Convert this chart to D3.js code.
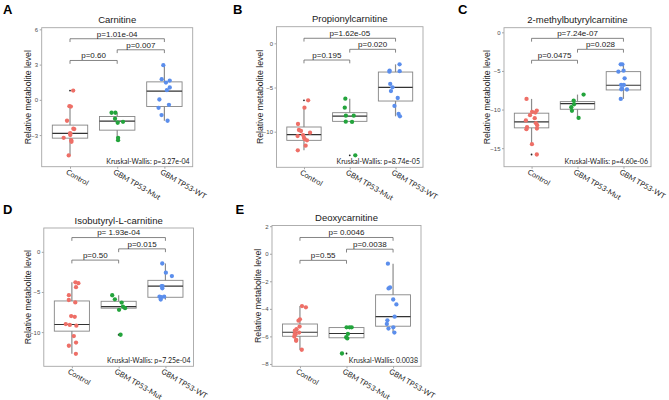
<!DOCTYPE html>
<html>
<head>
<meta charset="utf-8">
<script src="https://cdn.jsdelivr.net/npm/d3@7"></script>
<style>
  body { margin: 0; background: #fff; }
  svg { display: block; }
  .frame { fill: none; stroke: #a6a6a6; stroke-width: 0.9; }
  .ytick { font-family: "Liberation Sans", Arial, sans-serif; font-size: 6px; fill: #4d4d4d; }
  .ytitle { font-family: "Liberation Sans", Arial, sans-serif; font-size: 8.7px; fill: #1a1a1a; }
  .title { font-family: "Liberation Sans", Arial, sans-serif; font-size: 9.5px; fill: #1a1a1a; }
  .letter { font-family: "Liberation Sans", Arial, sans-serif; font-size: 13px; font-weight: bold; fill: #000; }
  .xlab { font-family: Lato, "Open Sans", sans-serif; font-size: 7.5px; fill: #262626; }
  .kw { font-family: Lato, "Open Sans", sans-serif; font-size: 7px; fill: #1a1a1a; }
  .pval { font-family: "Liberation Sans", Arial, sans-serif; font-size: 8px; fill: #1a1a1a; }
  .bracket { fill: none; stroke: #666; stroke-width: 0.8; }
  .whisker { stroke: #8c8c8c; stroke-width: 1.2; }
  .box { fill: #fff; stroke: #858585; stroke-width: 0.9; }
  .median { stroke: #333; stroke-width: 1.2; }
</style>
</head>
<body>
<svg id="chart" width="669" height="400"></svg>
<script>
// groups and colours
const groups = ["Control", "GBM TP53-Mut", "GBM TP53-WT"];
const groupColors = ["#ee6f67", "#23a43c", "#5b8eec"];

const panelLetters = ["A", "B", "C", "D", "E"];
const panelTitles = ["Carnitine", "Propionylcarnitine", "2-methylbutyrylcarnitine",
  "Isobutyryl-L-carnitine", "Deoxycarnitine"];
const kruskalLabels = ["Kruskal-Wallis: p=3.27e-04", "Kruskal-Wallis: p=8.74e-05",
  "Kruskal-Wallis: p=4.60e-06", "Kruskal-Wallis: p=7.25e-04", "Kruskal-Wallis: 0.0038"];
const yTicks = [[6, 3, 0, -3], [0, -5, -10], [0, -5, -10, -15], [0, -5, -10], [2, 0, -2, -4, -6, -8]];

// points per group: Control, Mut, WT
const carnitinePoints = [
  [0.79, -0.57, -0.54, -1.78, -2.49, -2.46, -2.86, -2.86, -3.0, -3.23, -3.43, -3.57, -4.73],
  [-1.1, -1.1, -1.61, -1.87, -1.95, -3.23, -3.43],
  [2.95, 1.76, 1.64, 1.47, 1.05, 0.82, 0.03, -0.42, -0.68, -1.3, -1.78]
];
const propionylPoints = [
  [-6.45, -7.28, -9.13, -9.81, -9.92, -10.11, -10.38, -10.5, -10.68, -10.87, -10.98, -11.58, -12.11],
  [-6.26, -7.28, -8.19, -8.19, -8.87, -8.9, -12.68],
  [-2.38, -3.09, -3.21, -3.15, -4.6, -4.98, -5.4, -6.19, -7.09, -8.0, -8.26]
];
const methylbutyrylPoints = [
  [-8.62, -10.13, -10.3, -10.39, -10.73, -11.12, -11.42, -11.77, -12.03, -12.28, -12.46, -12.54, -14.48, -15.82],
  [-8.06, -8.84, -9.31, -9.7, -10.17, -11.08],
  [-4.14, -4.14, -4.96, -5.09, -5.95, -6.81, -6.81, -7.3, -7.37, -7.4, -8.62]
];
const isobutyrylPoints = [
  [-3.8, -3.9, -4.4, -5.4, -6.0, -6.3, -8.0, -8.1, -9.0, -9.1, -9.2, -10.5, -11.3, -11.7, -12.7],
  [-5.41, -5.91, -6.32, -6.82, -7.02, -7.23, -10.33],
  [-1.45, -2.6, -3.02, -4.26, -4.26, -4.55, -5.58, -5.58, -5.66, -5.95]
];
const deoxyPoints = [
  [-3.8, -3.89, -4.76, -4.86, -5.29, -5.48, -5.58, -5.72, -5.82, -5.84, -6.01, -6.25, -6.32, -6.97],
  [-5.34, -5.34, -5.34, -5.82, -6.06, -6.15, -7.24],
  [-0.72, -2.45, -2.52, -3.32, -3.68, -4.57, -4.83, -5.1, -5.34, -5.43, -5.72]
];

// box stats per group: [lower whisker, q1, median, q3, upper whisker]
const carnitineBoxes = [[-4.73, -3.26, -2.86, -2.15, -0.54], [-3.43, -2.58, -1.81, -1.42, -1.1], [-1.78, -0.57, 0.74, 1.53, 2.95]];
const propionylBoxes = [[-12.11, -10.98, -10.34, -9.47, -7.28], [-8.9, -8.83, -8.23, -7.85, -6.26], [-8.26, -6.53, -4.98, -3.25, -2.38]];
const methylbutyrylBoxes = [[-14.48, -12.37, -11.6, -10.47, -8.62], [-11.08, -9.96, -9.22, -8.97, -8.06], [-8.62, -7.46, -6.85, -5.09, -4.14]];
const isobutyrylBoxes = [[-12.69, -9.88, -9.05, -6.12, -3.8], [-7.23, -7.02, -6.82, -6.16, -5.41], [-5.95, -5.66, -4.26, -3.55, -1.45]];
const deoxyBoxes = [[-6.97, -5.99, -5.7, -5.1, -3.8], [-6.15, -6.1, -5.79, -5.36, -5.34], [-5.72, -5.26, -4.57, -2.98, -0.72]];

// outliers: [group index, value]
const carnitineOutliers = [[0, 0.79]];
const propionylOutliers = [[0, -6.45], [1, -12.68]];
const methylbutyrylOutliers = [[0, -15.82]];
const isobutyrylOutliers = [[1, -10.33]];
const deoxyOutliers = [[1, -7.24]];

// pairwise tests: [from group, to group, bracket height, label]
const carnitineTests = [[0, 2, 5.2, "p=1.01e-04"], [1, 2, 4.26, "p=0.007"], [0, 1, 3.35, "p=0.60"]];
const propionylTests = [[0, 2, 0.57, "p=1.62e-05"], [1, 2, -0.68, "p=0.020"], [0, 1, -1.89, "p=0.195"]];
const methylbutyrylTests = [[0, 2, -0.78, "p=7.24e-07"], [1, 2, -2.2, "p=0.028"], [0, 1, -3.62, "p=0.0475"]];
const isobutyrylTests = [[0, 2, 1.78, "p= 1.93e-04"], [1, 2, 0.37, "p=0.015"], [0, 1, -1.03, "p=0.50"]];
const deoxyTests = [[0, 2, 1.18, "p= 0.0046"], [1, 2, 0.33, "p=0.0038"], [0, 1, -0.48, "p=0.55"]];

const yDomains = [[-5.69, 6.14], [-14.03, 1.88], [-17.4, 0.6], [-14.26, 2.97], [-8.17, 2.05]];

// where each panel sits on the page
const layout = [
  {x0: 41.7, x1: 192.7, y0: 27.7, y1: 166.7, titleX: 28.3, lx: 3, ly: 14},
  {x0: 276.5, x1: 423, y0: 26.7, y1: 167.3, titleX: 260, lx: 233, ly: 14},
  {x0: 504, x1: 651, y0: 27.7, y1: 166.7, titleX: 486.7, lx: 458, ly: 14},
  {x0: 43.8, x1: 193.5, y0: 228, y1: 366.3, titleX: 28.3, lx: 3, ly: 214},
  {x0: 272, x1: 421, y0: 225.5, y1: 366.3, titleX: 258.3, lx: 235.5, ly: 214}
];

const allPoints = [carnitinePoints, propionylPoints, methylbutyrylPoints, isobutyrylPoints, deoxyPoints];
const allBoxes = [carnitineBoxes, propionylBoxes, methylbutyrylBoxes, isobutyrylBoxes, deoxyBoxes];
const allOutliers = [carnitineOutliers, propionylOutliers, methylbutyrylOutliers, isobutyrylOutliers, deoxyOutliers];
const allTests = [carnitineTests, propionylTests, methylbutyrylTests, isobutyrylTests, deoxyTests];

const svg = d3.select("#chart");

// fixed pseudo jitter so the page looks the same each time
function jitter(i, g){
  const v = Math.sin((i + 1) * 12.9898 + (g + 1) * 78.233) * 43758.5453;
  return (v - Math.floor(v)) * 2 - 1;
}

function drawPanel(k){
  const L = layout[k];
  const g = svg.append("g").attr("data-panel", panelLetters[k]);

  const x = d3.scalePoint().domain(groups).range([L.x0, L.x1]).padding(0.6);
  const y = d3.scaleLinear().domain(yDomains[k]).range([L.y1, L.y0]);
  const step = x.step();
  const boxW = step * 0.75;

  // y axis ticks
  const yAxis = g.append("g").attr("transform", `translate(${L.x0},0)`)
    .call(d3.axisLeft(y).tickValues(yTicks[k]).tickSize(2).tickPadding(1.5).tickFormat(d3.format("d")));
  yAxis.select(".domain").remove();
  yAxis.selectAll("line").attr("stroke", "#666").attr("stroke-width", 0.6);
  yAxis.selectAll("text").attr("class", "ytick").attr("font-size", null).attr("font-family", null).attr("fill", null);

  // x axis tick marks + rotated labels
  const xAxis = g.append("g").attr("transform", `translate(0,${L.y1})`)
    .call(d3.axisBottom(x).tickSize(2).tickFormat(""));
  xAxis.select(".domain").remove();
  xAxis.selectAll("line").attr("stroke", "#666").attr("stroke-width", 0.6);

  g.selectAll(".xlab").data(groups).join("text")
    .attr("class", "xlab")
    .attr("transform", d => `translate(${x(d) - 2.5},${L.y1 + 3.2}) rotate(30)`)
    .attr("dy", "0.55em")
    .text(d => d);

  // boxes
  const boxes = allBoxes[k];
  groups.forEach((name, gi) => {
    const b = boxes[gi];
    const cx = x(name);
    g.append("line").attr("class", "whisker")
      .attr("x1", cx).attr("x2", cx).attr("y1", y(b[0])).attr("y2", y(b[4]));
    g.append("rect").attr("class", "box")
      .attr("x", cx - boxW / 2).attr("width", boxW)
      .attr("y", y(b[3])).attr("height", y(b[1]) - y(b[3]));
    g.append("line").attr("class", "median")
      .attr("x1", cx - boxW / 2).attr("x2", cx + boxW / 2)
      .attr("y1", y(b[2])).attr("y2", y(b[2]));
  });

  // outliers (small black dots)
  g.selectAll(".outlier").data(allOutliers[k]).join("circle")
    .attr("class", "outlier")
    .attr("cx", d => x(groups[d[0]]))
    .attr("cy", d => y(d[1]))
    .attr("r", 0.9)
    .attr("fill", "#222");

  // jittered points
  allPoints[k].forEach((vals, gi) => {
    g.append("g").selectAll("circle").data(vals).join("circle")
      .attr("cx", (d, i) => x(groups[gi]) + jitter(i, gi + k * 3) * step * 0.14)
      .attr("cy", d => y(d))
      .attr("r", 2.15)
      .attr("fill", groupColors[gi]);
  });

  // significance brackets
  const tip = 3.3;
  allTests[k].forEach(t => {
    const xa = x(groups[t[0]]), xb = x(groups[t[1]]), yy = y(t[2]);
    g.append("path").attr("class", "bracket")
      .attr("d", `M${xa},${yy + tip}V${yy}H${xb}V${yy + tip}`);
    g.append("text").attr("class", "pval")
      .attr("x", (xa + xb) / 2).attr("y", yy - 2.2)
      .attr("text-anchor", "middle")
      .text(t[3]);
  });

  // frame
  g.append("rect").attr("class", "frame")
    .attr("x", L.x0).attr("y", L.y0)
    .attr("width", L.x1 - L.x0).attr("height", L.y1 - L.y0);

  // Kruskal-Wallis note
  g.append("text").attr("class", "kw")
    .attr("x", L.x1 - 3).attr("y", L.y1 - 3)
    .attr("text-anchor", "end")
    .text(kruskalLabels[k]);

  // title, y title, letter
  g.append("text").attr("class", "title")
    .attr("x", (L.x0 + L.x1) / 2).attr("y", L.y0 - 4.5)
    .attr("text-anchor", "middle")
    .text(panelTitles[k]);
  g.append("text").attr("class", "ytitle")
    .attr("transform", `translate(${L.titleX + 3},${(L.y0 + L.y1) / 2}) rotate(-90)`)
    .attr("text-anchor", "middle")
    .text("Relative metabolite level");
  g.append("text").attr("class", "letter")
    .attr("x", L.lx).attr("y", L.ly)
    .text(panelLetters[k]);
}

panelTitles.forEach((t, k) => drawPanel(k));
</script>
</body>
</html>
